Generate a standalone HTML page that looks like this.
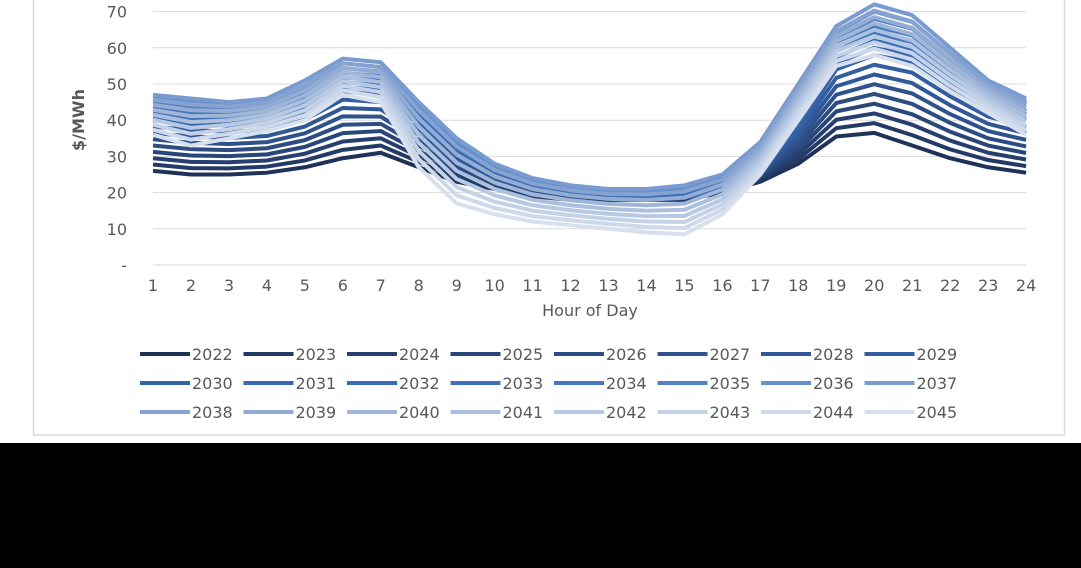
<!DOCTYPE html>
<html><head><meta charset="utf-8"><style>
html,body{margin:0;padding:0;background:#000;width:1081px;height:568px;overflow:hidden}
svg{display:block}
text{font-family:"DejaVu Sans","Liberation Sans",sans-serif;fill:#595959}
</style></head><body>
<svg id="s" width="1081" height="568" xmlns="http://www.w3.org/2000/svg">
<rect x="0" y="0" width="1081" height="443" fill="#fff"/>
<rect x="33.5" y="-5" width="1031" height="440" fill="none" stroke="#d9d9d9" stroke-width="1.5"/>
<g id="grid"></g>
<g id="lines"></g>
<text x="0" y="0" transform="translate(84,120) rotate(-90)" text-anchor="middle" font-size="16" font-weight="bold" style="fill:#595959">$/MWh</text>
<text x="590" y="316" text-anchor="middle" font-size="16">Hour of Day</text>
<g id="leg"></g>
</svg>
<script>
const NS="http://www.w3.org/2000/svg";
function el(t,a,p,txt){const e=document.createElementNS(NS,t);for(const k in a)e.setAttribute(k,a[k]);if(txt!==undefined)e.textContent=txt;document.getElementById(p).appendChild(e);return e;}
const X=h=>153+(h-1)*37.96, Y=v=>265-v*3.62;
for(let v=0;v<=70;v+=10){el('line',{x1:153,x2:1026,y1:Y(v),y2:Y(v),stroke:'#d9d9d9','stroke-width':1},'grid');
el('text',{x:127,y:Y(v)+6,'text-anchor':'end','font-size':16},'grid',v==0?'-':v);}
for(let h=1;h<=24;h++)el('text',{x:X(h),y:291,'text-anchor':'middle','font-size':16},'grid',h);
const A=[26,25,25,25.5,27,29.5,31,27,23,21,19,18,18,18,18,20,23,28,35.5,36.5,33,29.5,27,25.5];
const B=[40,39,38.5,39,42,48,47,39,31,25,21.5,19.5,19,18.5,19,21,27,38,54,58,56,49,43,40];
const C=[47,46,45,46,51,57,56,45,35,28,24,22,21,21,22,25,34,50,66,72,69,60,51,46];
const D=[36,33,35,37,40,47,45,27,17,14,12,11,10,9,8.5,14,25,40,55,58,55,48,42,36];
const cols=['#1f3258','#233a66','#263f70','#294678','#2c4c82','#2f528c','#315896','#335ea0','#3563aa','#3868b2','#3a6db8','#3e72bc','#4578c0','#5582c4','#6690cc','#7a9bd0','#86a2d0','#92acd4','#9fb6d8','#abc0de','#b8c9e3','#c4d2e8','#ced9ec','#d8e0f0'];
function lerp(a,b,t){return a.map((v,i)=>v+(b[i]-v)*t);}
const series=[];
for(let i=0;i<24;i++){let d;
 if(i<=8)d=lerp(A,B,i/8);else if(i<=15)d=lerp(B,C,(i-8)/7);else d=lerp(C,D,(i-15)/8);
 series.push(d);}
for(let i=0;i<24;i++){const d=series[i];
 el('polyline',{points:d.map((v,h)=>X(h+1)+','+Y(v)).join(' '),fill:'none',stroke:cols[i],'stroke-width':4,'stroke-linejoin':'round'},'lines');}
for(let i=0;i<24;i++){const r=Math.floor(i/8),c=i%8;const x=140+c*103.5,y=354+r*29;
 el('line',{x1:x,x2:x+50,y1:y,y2:y,stroke:cols[i],'stroke-width':4},'leg');
 el('text',{x:x+52,y:y+6,'font-size':16},'leg',2022+i);}
</script>
</body></html>
